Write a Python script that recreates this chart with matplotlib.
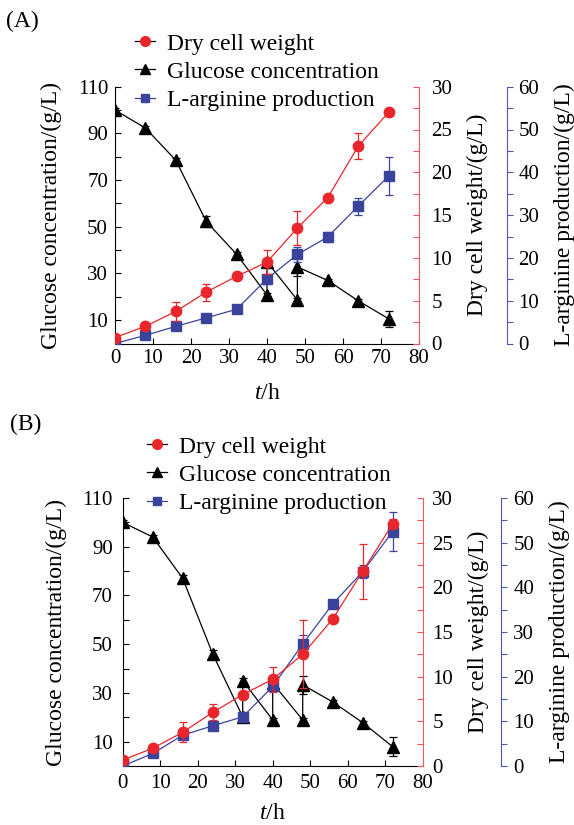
import matplotlib
matplotlib.use('Agg')
import matplotlib.pyplot as plt
from matplotlib.ticker import MultipleLocator, FixedLocator
from matplotlib.lines import Line2D

plt.rcParams['font.family'] = ['Liberation Serif', 'DejaVu Serif']
plt.rcParams['mathtext.fontset'] = 'custom'
plt.rcParams['mathtext.rm'] = 'Liberation Serif'
plt.rcParams['mathtext.it'] = 'Liberation Serif:italic'

RED = '#e8262b'
BLUE = '#3a449c'
RED_AX = '#f0585c'
BLUE_AX = '#4c58a8'

# ---------------- data ----------------
time_h = [0, 8, 16, 24, 32, 40, 48, 56, 64, 72]
x_ticks = [0, 10, 20, 30, 40, 50, 60, 70, 80]
glc_ticks = [10, 30, 50, 70, 90, 110]
legend_labels = ['Dry cell weight', 'Glucose concentration', 'L-arginine production']

# Panel A
dcw_a = [0.7, 2.0, 3.75, 6.0, 7.85, 9.5, 13.5, 17.05, 23.05, 27.0]
dcw_err_a = [0.3, 0.4, 1.15, 1.0, 0.3, 1.4, 2.0, 0.35, 1.5, 0.4]
arg_a = [0.0, 1.9, 4.0, 6.0, 8.0, 15.1, 20.8, 24.9, 32.1, 39.1]
arg_err_a = [0.2, 0.4, 0.8, 0.5, 0.5, 1.2, 1.8, 1.2, 2.0, 4.4]
t_glc_a = [0, 8, 16, 24, 32, 40, 40, 48, 48, 56, 64, 72]
glc_a = [100, 92.3, 78.5, 52.3, 38.2, 20.8, 35.0, 18.6, 32.8, 27.0, 18.3, 10.6]
glc_err_a = [0.8, 0.8, 1.0, 2.2, 1.0, 0.8, 0.0, 0.8, 4.0, 0.8, 0.8, 3.5]

# Panel B
dcw_b = [0.67, 1.98, 3.77, 6.0, 8.0, 9.7, 12.5, 16.45, 21.8, 27.1]
dcw_err_b = [0.3, 0.4, 1.1, 0.9, 0.3, 1.4, 3.8, 0.3, 3.1, 0.5]
arg_b = [0.0, 2.8, 6.9, 9.0, 11.0, 17.8, 27.3, 36.3, 43.5, 52.5]
arg_err_b = [0.2, 0.4, 0.6, 0.5, 0.8, 1.0, 2.1, 0.9, 1.5, 4.3]
t_glc_b = [0, 8, 16, 24, 32, 32, 40, 40, 48, 48, 56, 64, 72]
glc_b = [100, 94.0, 77.0, 46.0, 20.2, 35.0, 18.9, 34.0, 18.9, 33.3, 26.3, 17.8, 7.9]
glc_err_b = [0.8, 0.8, 1.2, 1.8, 0.8, 1.0, 0.8, 0.0, 0.8, 3.7, 0.8, 0.8, 3.8]

W, H = 574, 825
fig = plt.figure(figsize=(W / 100, H / 100), dpi=100)


def panel(px_left, px_right, px_top, px_bottom, dcw, dcw_err, arg, arg_err,
          t_glc, glc, glc_err, cfg):
    rect = [px_left / W, 1 - px_bottom / H, (px_right - px_left) / W,
            (px_bottom - px_top) / H]
    aw = px_right - px_left
    ah = px_bottom - px_top
    ax = fig.add_axes(rect)
    ax_b = ax.twinx()
    ax_r = ax.twinx()

    # glucose (left axis)
    ax.errorbar(t_glc, glc, yerr=glc_err, color='black', lw=0.9, marker='^',
                ms=8, mfc='black', mec='black', capsize=3, elinewidth=0.9,
                capthick=0.9)
    ax.set_xlim(0, 80)
    ax.set_ylim(0, 110)
    ax.spines['top'].set_visible(False)
    ax.spines['right'].set_visible(False)
    ax.set_xticks(x_ticks)
    ax.yaxis.set_major_locator(FixedLocator(glc_ticks))
    ax.yaxis.set_minor_locator(FixedLocator([0, 20, 40, 60, 80, 100]))
    ax.tick_params(axis='y', which='both', direction='in', length=4, width=0.8,
                   labelsize=15, pad=cfg['ypad'])
    ax.tick_params(axis='x', which='both', direction='in', length=4, width=0.8,
                   labelsize=15, pad=cfg['xpad'])
    ax.set_ylabel('Glucose concentration/(g/L)', fontsize=17)
    ax.yaxis.set_label_coords((cfg['ylab_l'] - px_left) / aw, 0.5)
    ax.set_xlabel('$t$/h', fontsize=17)
    ax.xaxis.set_label_coords(0.5, (px_bottom - cfg['xlab_top']) / ah)

    # L-arginine (outer right axis)
    ax_b.errorbar(time_h, arg, yerr=arg_err, color=BLUE, lw=0.9, marker='s',
                  ms=6.5, mfc=BLUE, mec=BLUE, capsize=3, elinewidth=0.9,
                  capthick=0.9)
    ax_b.set_ylim(0, 60)
    ax_b.spines['right'].set_position(('axes', (cfg['blue_x'] - px_left) / aw))
    for s in ['top', 'left', 'bottom']:
        ax_b.spines[s].set_visible(False)
    ax_b.spines['right'].set_color(BLUE_AX)
    ax_b.yaxis.set_major_locator(MultipleLocator(10))
    ax_b.yaxis.set_minor_locator(MultipleLocator(5))
    ax_b.tick_params(axis='y', which='both', direction='out', length=4,
                     width=0.8, color=BLUE_AX, labelcolor='black', labelsize=15,
                     pad=cfg['bpad'])
    ax_b.set_ylabel('L-arginine production/(g/L)', fontsize=17)
    ax_b.yaxis.set_label_coords((cfg['ylab_b'] - px_left) / aw, 0.5)

    # Dry cell weight (right axis)
    ax_r.errorbar(time_h, dcw, yerr=dcw_err, color=RED, lw=0.9, marker='o',
                  ms=7.5, mfc=RED, mec=RED, capsize=3, elinewidth=0.9,
                  capthick=0.9)
    ax_r.set_ylim(0, 30)
    for s in ['top', 'left', 'bottom']:
        ax_r.spines[s].set_visible(False)
    ax_r.spines['right'].set_color(RED_AX)
    ax_r.yaxis.set_major_locator(MultipleLocator(5))
    ax_r.yaxis.set_minor_locator(MultipleLocator(2.5))
    ax_r.tick_params(axis='y', which='both', direction='in', length=4,
                     width=0.8, color=RED_AX, labelcolor='black', labelsize=15,
                     pad=cfg['rpad'])
    ax_r.set_ylabel('Dry cell weight/(g/L)', fontsize=17)
    ax_r.yaxis.set_label_coords((cfg['ylab_r'] - px_left) / aw, 0.5)

    handles = [
        Line2D([], [], color='black', lw=0.9, marker='o', ms=7, mfc=RED, mec=RED),
        Line2D([], [], color='black', lw=0.9, marker='^', ms=7, mfc='black',
               mec='black'),
        Line2D([], [], color=BLUE, lw=0.9, marker='s', ms=6, mfc=BLUE, mec=BLUE),
    ]
    ax_r.legend(handles, legend_labels, loc='upper left',
                bbox_to_anchor=(cfg['leg_x'] / W, 1 - cfg['leg_y'] / H),
                bbox_transform=fig.transFigure, frameon=False, borderpad=0,
                borderaxespad=0, handlelength=0.85, handletextpad=0.5,
                labelspacing=0.28, fontsize=17)

    fig.text(cfg['tag_x'] / W, 1 - cfg['tag_y'] / H, cfg['tag'], fontsize=17,
             ha='left', va='center')


panel(115, 419, 86.7, 343.5, dcw_a, dcw_err_a, arg_a, arg_err_a,
      t_glc_a, glc_a, glc_err_a,
      dict(ypad=5, xpad=4, rpad=9, bpad=4.5, ylab_l=62, ylab_r=466.7,
           ylab_b=554, xlab_top=383, blue_x=506.7, leg_x=135, leg_y=33,
           tag='(A)', tag_x=6, tag_y=21))

panel(122.7, 422.7, 498, 766, dcw_b, dcw_err_b, arg_b, arg_err_b,
      t_glc_b, glc_b, glc_err_b,
      dict(ypad=7, xpad=6, rpad=7, bpad=5, ylab_l=67, ylab_r=468,
           ylab_b=549, xlab_top=803, blue_x=500.7, leg_x=147, leg_y=436,
           tag='(B)', tag_x=10, tag_y=424))

fig.savefig('out.png', dpi=100)
